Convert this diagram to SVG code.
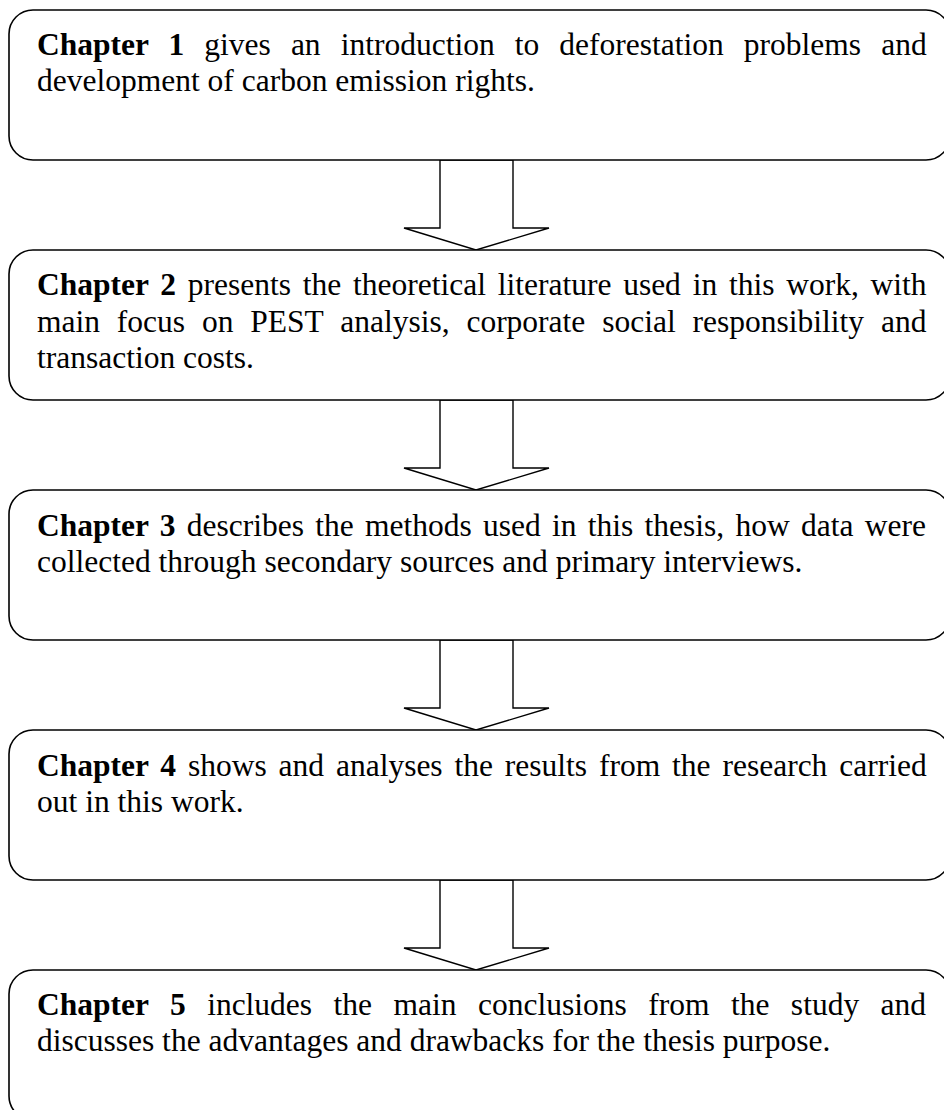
<svg xmlns="http://www.w3.org/2000/svg" width="944" height="1110" viewBox="0 0 944 1110">
<style>
.box{fill:#fff;stroke:#000;stroke-width:1.6}
.arr{fill:#fff;stroke:#000;stroke-width:1.4;stroke-linejoin:miter}
text{font-family:"Liberation Serif","Times New Roman",serif;font-size:31.5px;fill:#000}
.b{font-weight:bold}
</style>
<rect width="944" height="1110" fill="#fff"/>
<g id="connectors">
<polygon class="arr" points="440,160 513,160 513,228 549,228 476,250 404,228 440,228"/>
<polygon class="arr" points="440,400 513,400 513,468 549,468 476,490 404,468 440,468"/>
<polygon class="arr" points="440,640 513,640 513,708 549,708 476,730 404,708 440,708"/>
<polygon class="arr" points="440,880 513,880 513,948 549,948 476,970 404,948 440,948"/>
</g>
<g id="node1">
<rect class="box" x="9" y="10" width="941" height="150" rx="24"/>
<text x="37" y="55" word-spacing="12.2"><tspan class="b">Chapter 1</tspan> gives an introduction to deforestation problems and</text>
<text x="37" y="91">development of carbon emission rights.</text>
</g>
<g id="node2">
<rect class="box" x="9" y="250" width="941" height="150" rx="24"/>
<text x="37" y="295" word-spacing="3.9"><tspan class="b">Chapter 2</tspan> presents the theoretical literature used in this work, with</text>
<text x="37" y="332" word-spacing="9">main focus on PEST analysis, corporate social responsibility and</text>
<text x="37" y="368">transaction costs.</text>
</g>
<g id="node3">
<rect class="box" x="9" y="490" width="941" height="150" rx="24"/>
<text x="37" y="536" word-spacing="3.4"><tspan class="b">Chapter 3</tspan> describes the methods used in this thesis, how data were</text>
<text x="37" y="572">collected through secondary sources and primary interviews.</text>
</g>
<g id="node4">
<rect class="box" x="9" y="730" width="941" height="150" rx="24"/>
<text x="37" y="776" word-spacing="4"><tspan class="b">Chapter 4</tspan> shows and analyses the results from the research carried</text>
<text x="37" y="812">out in this work.</text>
</g>
<g id="node5">
<rect class="box" x="9" y="970" width="941" height="150" rx="24"/>
<text x="37" y="1015" word-spacing="13.6"><tspan class="b">Chapter 5</tspan> includes the main conclusions from the study and</text>
<text x="37" y="1051">discusses the advantages and drawbacks for the thesis purpose.</text>
</g>
</svg>
